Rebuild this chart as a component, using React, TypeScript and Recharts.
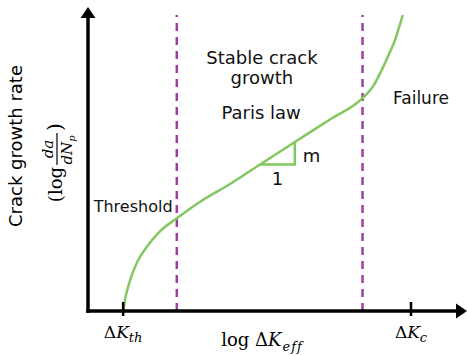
import React from 'react';
import { LineChart, Line, XAxis, YAxis, ReferenceLine, ReferenceDot } from 'recharts';

// crack growth curve: log dK vs log da/dN (arbitrary units 0..10)
const curveLogK = [0.95, 1.02, 1.14, 1.34, 1.59, 1.95, 2.4, 3.03, 3.84, 4.65, 5.59, 6.54, 7.42, 7.7, 7.98, 8.16, 8.3, 8.41, 8.51];
const curveLogRate = [0, 0.5, 1.05, 1.68, 2.17, 2.7, 3.13, 3.69, 4.29, 4.95, 5.71, 6.47, 7.19, 7.58, 8.25, 8.75, 9.16, 9.6, 10];

// slope triangle on the Paris region
const slopeLogK = [4.65, 5.59, 5.59];
const slopeLogRate = [4.95, 4.95, 5.71];

// dashed region boundaries
const regionBounds = [2.4, 7.42];

// x ticks (dK_th, dK_c)
const tickValues = [0.95, 8.73];
const tickSubs = ['th', 'c'];

const annotationText = ['Stable crack', 'growth', 'Paris law', 'Failure', 'Threshold', 'm', '1'];
const annotationX = [4.7, 4.7, 4.68, 9.0, 1.22, 6.04, 5.12];
const annotationY = [8.34, 7.67, 6.49, 6.99, 3.34, 5.03, 4.26];
const annotationSize = [18, 18, 18, 17, 16, 18, 18];

const GREEN = '#82c760';
const PURPLE = '#a040a0';
const SANS = '"DejaVu Sans", sans-serif';
const SERIF = '"DejaVu Serif", serif';

const curveData = curveLogK.map((x, i) => ({ x, y: curveLogRate[i] }));
const slopeData = slopeLogK.map((x, i) => ({ x, y: slopeLogRate[i] }));

function XTick(props: any) {
    const { x, y, index } = props;
    return (
        <g>
            <line x1={x} x2={x} y1={y - 9} y2={y + 5} stroke="#000" strokeWidth={2.5} />
            <text x={x} y={y + 27} textAnchor="middle" fontFamily={SERIF} fontSize={17} fill="#000">
                <tspan>Δ</tspan>
                <tspan fontStyle="italic">K</tspan>
                <tspan fontStyle="italic" fontSize={13} dy={4}>{tickSubs[index]}</tspan>
            </text>
        </g>
    );
}

function XTitle(props: any) {
    const vb = props.viewBox || { x: 88, y: 311, width: 370, height: 45 };
    const cx = vb.x + vb.width / 2 - 11;
    return (
        <text x={cx} y={vb.y + 35} textAnchor="middle" fontFamily={SERIF} fontSize={18} fill="#000">
            <tspan>log </tspan>
            <tspan>Δ</tspan>
            <tspan fontStyle="italic">K</tspan>
            <tspan fontStyle="italic" fontSize={13} dy={5} dx={1} letterSpacing={1}>eff</tspan>
        </text>
    );
}

function YTitle(props: any) {
    const vb = props.viewBox || { x: 0, y: 15, width: 88, height: 296 };
    const mid = vb.y + vb.height / 2;
    return (
        <g>
            <g transform={`translate(${vb.x + 22}, ${mid - 17}) rotate(-90)`}>
                <text textAnchor="middle" fontFamily={SANS} fontSize={18} fill="#000">Crack growth rate</text>
            </g>
            <g transform={`translate(${vb.x + 62}, ${mid - 11}) rotate(-90)`} fontFamily={SERIF} fill="#000">
                <text x={-15} textAnchor="end" fontSize={18}>(log</text>
                <text x={3} y={-9} textAnchor="middle" fontSize={15} fontStyle="italic">da</text>
                <line x1={-13} x2={19} y1={-5} y2={-5} stroke="#000" strokeWidth={1.2} />
                <text x={2} y={10} textAnchor="middle" fontSize={15} fontStyle="italic">
                    dN<tspan fontSize={10} dy={3}>p</tspan>
                </text>
                <text x={21} fontSize={20}>)</text>
            </g>
        </g>
    );
}

const arrowUp = (p: any) => (
    <polygon points={`${p.cx},${p.cy - 8} ${p.cx - 7.5},${p.cy + 3} ${p.cx + 7.5},${p.cy + 3}`} fill="#000" />
);
const arrowRight = (p: any) => (
    <polygon points={`${p.cx + 9},${p.cy} ${p.cx - 2},${p.cy - 7.5} ${p.cx - 2},${p.cy + 7.5}`} fill="#000" />
);

export default function App() {
    return (
        <div style={{ position: 'absolute', left: 0, top: 0, width: 467, height: 356, background: '#fff' }}>
            <LineChart width={467} height={356} margin={{ top: 15, right: 9, bottom: 0, left: 0 }}>
                <XAxis
                    dataKey="x"
                    type="number"
                    domain={[0, 10]}
                    allowDataOverflow
                    ticks={tickValues}
                    interval={0}
                    height={45}
                    tickSize={0}
                    tickMargin={0}
                    tickLine={false}
                    tick={<XTick />}
                    axisLine={{ stroke: '#000', strokeWidth: 3.5, strokeLinecap: 'square' }}
                    label={(p: any) => <XTitle {...p} />}
                />
                <YAxis
                    type="number"
                    domain={[0, 10]}
                    allowDataOverflow
                    width={88}
                    tick={false}
                    tickLine={false}
                    axisLine={{ stroke: '#000', strokeWidth: 3.5, strokeLinecap: 'square' }}
                    label={(p: any) => <YTitle {...p} />}
                />
                {regionBounds.map((b) => (
                    <ReferenceLine key={b} x={b} stroke={PURPLE} strokeWidth={2.5} strokeDasharray="8 6" />
                ))}
                <Line
                    data={curveData}
                    dataKey="y"
                    type="monotone"
                    stroke={GREEN}
                    strokeWidth={2.5}
                    dot={false}
                    isAnimationActive={false}
                />
                <Line
                    data={slopeData}
                    dataKey="y"
                    type="linear"
                    stroke={GREEN}
                    strokeWidth={2.5}
                    dot={false}
                    isAnimationActive={false}
                />
                <ReferenceDot x={0} y={10} r={0} ifOverflow="visible" shape={arrowUp} />
                <ReferenceDot x={10} y={0} r={0} ifOverflow="visible" shape={arrowRight} />
                {annotationText.map((t, i) => (
                    <ReferenceDot
                        key={t}
                        x={annotationX[i]}
                        y={annotationY[i]}
                        r={0}
                        ifOverflow="visible"
                        shape={(p: any) => (
                            <text x={p.cx} y={p.cy} textAnchor="middle" fontFamily={SANS} fontSize={annotationSize[i]} fill="#111">
                                {t}
                            </text>
                        )}
                    />
                ))}
            </LineChart>
        </div>
    );
}
